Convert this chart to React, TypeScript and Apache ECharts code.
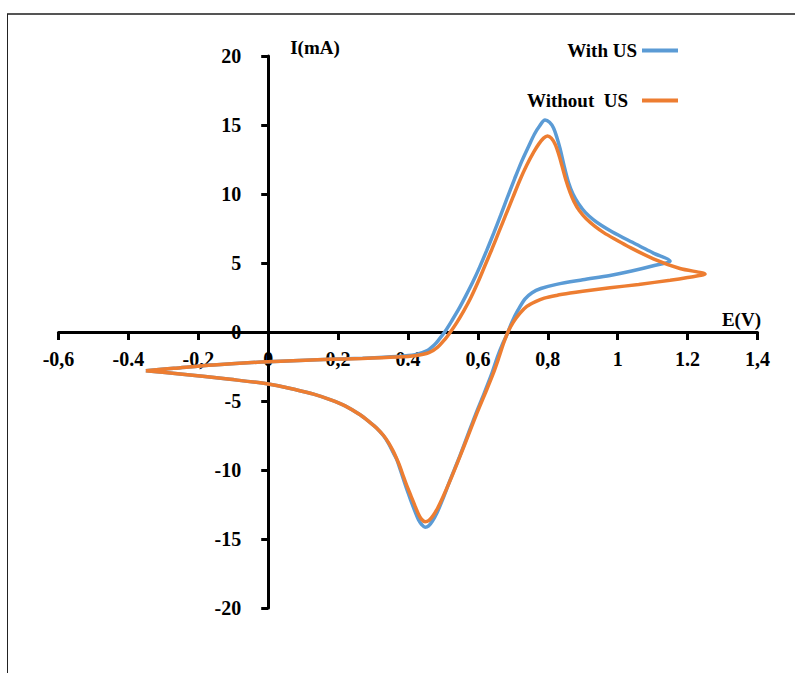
import React, { useEffect, useRef } from "react";
import * as echarts from "echarts";

// Tick labels as printed in the reference
const xTickValues = [-0.6, -0.4, -0.2, 0, 0.2, 0.4, 0.6, 0.8, 1, 1.2, 1.4];
const xTickLabels = ["-0,6", "-0.4", "-0,2", "0", "0,2", "0.4", "0,6", "0,8", "1", "1.2", "1,4"];

const seriesNames = ["With US", "Without US"];

// With US: potential (V) and current (mA), traced around the loop
const withUsE = [
  -0.35, -0.27, -0.157, 0, 0.177, 0.27, 0.368, 0.42, 0.455, 0.475, 0.49, 0.505, 0.525, 0.545, 0.565,
  0.585, 0.605, 0.625, 0.645, 0.665, 0.685, 0.705, 0.725, 0.745, 0.762, 0.777, 0.792, 0.805, 0.816,
  0.826, 0.835, 0.847, 0.859, 0.872, 0.888, 0.908, 0.93, 0.955, 0.985, 1.026, 1.065, 1.102, 1.15,
  1.102, 1.04, 0.978, 0.9, 0.825, 0.78, 0.755, 0.735, 0.715, 0.698, 0.682, 0.67, 0.656, 0.64,
  0.617, 0.593, 0.569, 0.545, 0.521, 0.498, 0.483, 0.47, 0.459, 0.449, 0.439, 0.43, 0.42, 0.408,
  0.396, 0.386, 0.377, 0.368, 0.358, 0.345, 0.33, 0.31, 0.291, 0.263, 0.22, 0.177, 0.13, 0.082, 0,
  -0.109, -0.252, -0.35,
];
const withUsI = [
  -2.8, -2.63, -2.39, -2.15, -1.98, -1.9, -1.78, -1.65, -1.35, -0.95, -0.5, 0.0, 0.8, 1.65, 2.6,
  3.6, 4.7, 5.9, 7.15, 8.45, 9.8, 11.1, 12.35, 13.45, 14.35, 14.95, 15.36, 15.2, 14.8,
  14.1, 13.3, 12.0, 10.85, 10.0, 9.3, 8.65, 8.15, 7.7, 7.25, 6.7, 6.2, 5.72, 5.15,
  4.8, 4.42, 4.1, 3.78, 3.45, 3.15, 2.85, 2.4, 1.6, 0.75, -0.25, -0.9, -1.8, -3.0,
  -4.5, -6.0, -7.6, -9.2, -10.7, -12.2, -13.1, -13.7, -14.05, -14.15, -13.95, -13.6, -13.0, -12.2,
  -11.35, -10.6, -9.9, -9.25, -8.75, -8.1, -7.52, -6.95, -6.55, -6.0, -5.35, -4.9, -4.5, -4.2, -3.77,
  -3.43, -3.04, -2.8,
];

// Without US
const withoutUsE = [
  -0.35, -0.27, -0.157, 0, 0.177, 0.27, 0.368, 0.42, 0.46, 0.485, 0.505, 0.52, 0.54, 0.56, 0.58,
  0.6, 0.62, 0.64, 0.66, 0.68, 0.7, 0.72, 0.74, 0.76, 0.775, 0.788, 0.799, 0.81, 0.821, 0.831,
  0.84, 0.852, 0.864, 0.875, 0.89, 0.91, 0.935, 0.96, 0.99, 1.026, 1.102, 1.178, 1.25,
  1.2, 1.15, 1.06, 0.978, 0.9, 0.864, 0.825, 0.79, 0.765, 0.74, 0.72, 0.701, 0.686, 0.673, 0.66,
  0.644, 0.62, 0.597, 0.573, 0.549, 0.525, 0.501, 0.485, 0.472, 0.46, 0.449, 0.438, 0.43, 0.42,
  0.408, 0.396, 0.386, 0.377, 0.367, 0.358, 0.345, 0.33, 0.31, 0.291, 0.263, 0.22, 0.177, 0.13,
  0.082, 0, -0.109, -0.252, -0.35,
];
const withoutUsI = [
  -2.8, -2.63, -2.39, -2.15, -1.98, -1.92, -1.82, -1.72, -1.5, -1.1, -0.55, -0.05, 0.7, 1.55, 2.5,
  3.6, 4.8, 6.0, 7.25, 8.5, 9.75, 11.0, 12.1, 13.05, 13.65, 14.05, 14.2, 14.05, 13.6, 12.9,
  12.1, 11.0, 10.1, 9.45, 8.8, 8.2, 7.65, 7.2, 6.75, 6.25, 5.3, 4.6, 4.2,
  3.95, 3.75, 3.45, 3.2, 2.95, 2.82, 2.65, 2.45, 2.2, 1.85, 1.35, 0.7, 0.0, -0.85, -1.85,
  -3.0, -4.5, -5.9, -7.45, -9.0, -10.5, -11.9, -12.75, -13.3, -13.65, -13.75, -13.55, -13.2, -12.6,
  -11.85, -11.1, -10.4, -9.75, -9.15, -8.65, -8.05, -7.5, -6.95, -6.55, -6.0, -5.35, -4.9, -4.5,
  -4.2, -3.77, -3.43, -3.04, -2.8,
];

const pairs = (xs: number[], ys: number[]) => xs.map((x, i) => [x, ys[i]]);

const FONT = "'Liberation Serif', 'Times New Roman', serif";

const GRID = { left: 58.5, right: 37.5, top: 56, bottom: 65 };
const W = 795;
const H = 673;

export default function App() {
  const ref = useRef<HTMLDivElement>(null);
  useEffect(() => {
    if (!ref.current) return;
    const chart = echarts.init(ref.current, null, { renderer: "svg" });
    const xMin = -0.6;
    const xMax = 1.4;
    const yMin = -20;
    const yMax = 20;
    const gw = W - GRID.left - GRID.right;
    const gh = H - GRID.top - GRID.bottom;
    // shift the axes so that they cross at the origin
    const yAxisOffset = -((0 - xMin) / (xMax - xMin)) * gw;
    const xAxisOffset = -((0 - yMin) / (yMax - yMin)) * gh;
    chart.setOption({
      animation: false,
      backgroundColor: "#ffffff",
      textStyle: { fontFamily: FONT },
      grid: { ...GRID, containLabel: false, outerBoundsMode: "none" },
      legend: [
        {
          data: [seriesNames[0]],
          right: 112,
          top: 36,
          icon: "rect",
          itemWidth: 36,
          itemHeight: 4,
          align: "right",
          textStyle: { fontFamily: FONT, fontWeight: "bold", fontSize: 19, color: "#000" },
        },
        {
          data: [seriesNames[1]],
          right: 112,
          top: 86,
          icon: "rect",
          itemWidth: 36,
          itemHeight: 4,
          align: "right",
          formatter: (name: string) => name.replace(" ", "\u00a0\u00a0"),
          textStyle: { fontFamily: FONT, fontWeight: "bold", fontSize: 19, color: "#000", padding: [0, 9, 0, 0] },
        },
      ],
      xAxis: {
        type: "value",
        min: xMin,
        max: xMax,
        interval: 0.2,
        offset: xAxisOffset,
        name: "E(V)",
        nameLocation: "end",
        nameGap: 3.5,
        nameTextStyle: {
          fontFamily: FONT,
          fontWeight: "bold",
          fontSize: 19,
          color: "#000",
          align: "right",
          verticalAlign: "bottom",
          padding: [0, 0, 3, 0],
        },
        splitLine: { show: false },
        axisLine: { onZero: false, lineStyle: { color: "#000", width: 3 } },
        axisTick: { length: 8, lineStyle: { color: "#000", width: 3 } },
        axisLabel: {
          margin: 17,
          fontFamily: FONT,
          fontWeight: "bold",
          fontSize: 20,
          color: "#000",
          formatter: (v: number) => {
            const i = xTickValues.findIndex((t) => Math.abs(t - v) < 1e-6);
            return i >= 0 ? xTickLabels[i] : "";
          },
        },
      },
      yAxis: {
        type: "value",
        min: yMin,
        max: yMax,
        interval: 5,
        offset: yAxisOffset,
        name: "I(mA)",
        nameLocation: "end",
        nameGap: 9,
        nameTextStyle: {
          fontFamily: FONT,
          fontWeight: "bold",
          fontSize: 19,
          color: "#000",
          align: "left",
          verticalAlign: "middle",
          padding: [0, 0, 0, 22],
        },
        splitLine: { show: false },
        axisLine: { onZero: false, lineStyle: { color: "#000", width: 3 } },
        axisTick: { length: 7, lineStyle: { color: "#000", width: 3 } },
        axisLabel: { margin: 27, fontFamily: FONT, fontWeight: "bold", fontSize: 20, color: "#000" },
      },
      series: [
        {
          name: seriesNames[0],
          type: "line",
          data: pairs(withUsE, withUsI),
          smooth: 0.3,
          symbol: "none",
          color: "#5B9BD5",
          lineStyle: { color: "#5B9BD5", width: 3.5 },
        },
        {
          name: seriesNames[1],
          type: "line",
          data: pairs(withoutUsE, withoutUsI),
          smooth: 0.3,
          symbol: "none",
          color: "#ED7D31",
          lineStyle: { color: "#ED7D31", width: 3.5 },
        },
      ],
      graphic: [
        { type: "line", shape: { x1: 7, y1: 14, x2: 795, y2: 14 }, style: { stroke: "#555", lineWidth: 2 } },
        { type: "line", shape: { x1: 7.5, y1: 14, x2: 7.5, y2: 673 }, style: { stroke: "#222", lineWidth: 1 } },
      ],
    });
    return () => chart.dispose();
  }, []);
  return <div ref={ref} style={{ position: "fixed", left: 0, top: 0, width: W, height: H }} />;
}
